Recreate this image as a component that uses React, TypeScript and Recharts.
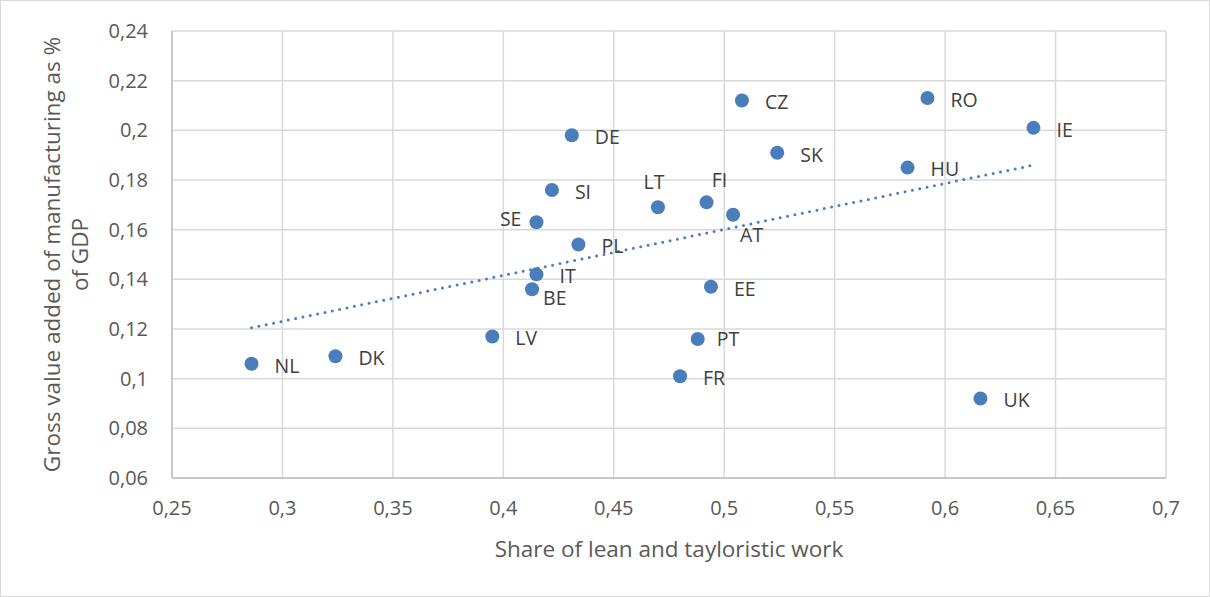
import React from 'react';
import { ScatterChart, Scatter, XAxis, YAxis, CartesianGrid, ReferenceLine } from 'recharts';

// country codes and values
const countries = ['NL', 'DK', 'LV', 'BE', 'IT', 'SE', 'SI', 'DE', 'PL', 'LT', 'FI', 'AT', 'CZ', 'SK', 'EE', 'PT', 'FR', 'RO', 'HU', 'IE', 'UK'];
const leanShare = [0.286, 0.324, 0.395, 0.413, 0.415, 0.415, 0.422, 0.431, 0.434, 0.470, 0.492, 0.504, 0.508, 0.524, 0.494, 0.488, 0.480, 0.592, 0.583, 0.640, 0.616];
const gvaShare = [0.106, 0.109, 0.117, 0.136, 0.142, 0.163, 0.176, 0.198, 0.154, 0.169, 0.171, 0.166, 0.212, 0.191, 0.137, 0.116, 0.101, 0.213, 0.185, 0.201, 0.092];

const xTicks = [0.25, 0.3, 0.35, 0.4, 0.45, 0.5, 0.55, 0.6, 0.65, 0.7];
const yTicks = [0.06, 0.08, 0.1, 0.12, 0.14, 0.16, 0.18, 0.2, 0.22, 0.24];

// linear trend endpoints (x, y)
const trendX = [0.286, 0.640];
const trendY = [0.1205, 0.186];

const points = countries.map((c, i) => ({ name: c, x: leanShare[i], y: gvaShare[i] }));

const BLUE = '#4a7dbb';
const FONT = '"Open Sans", "Segoe UI", sans-serif';

// label placement tweaks, default is right of the point
const labelTweak: Record<string, [number, number, 'start' | 'middle' | 'end']> = {
    LT: [-4, -25, 'middle'],
    FI: [13, -22, 'middle'],
    SE: [-15, -3, 'end'],
    AT: [7, 20, 'start'],
    BE: [11, 9, 'start'],
    PT: [19, 0, 'start'],
};

const fmt = (v: number) => String(Number(v.toFixed(2))).replace('.', ',');

const Dot = (props: any) => {
    const { cx, cy, payload } = props;
    const t = labelTweak[payload.name] || [23, 2, 'start'];
    return (
        <g>
            <circle cx={cx} cy={cy} r={7} fill={BLUE} />
            <text x={cx + t[0]} y={cy + t[1]} dy="0.35em" textAnchor={t[2]} fontSize={19.5} fill="#404040" fontFamily={FONT}>
                {payload.name}
            </text>
        </g>
    );
};

const YLabel = (props: any) => {
    const vb = props.viewBox || { y: 31, height: 447 };
    const cy = vb.y + vb.height / 2;
    return (
        <g fontFamily={FONT} fontSize={22.5} fill="#595959">
            <text transform={`translate(52, ${cy}) rotate(-90)`} textAnchor="middle" dy="0.35em">
                Gross value added of manufacturing as %
            </text>
            <text transform={`translate(80, ${cy}) rotate(-90)`} textAnchor="middle" dy="0.35em">
                of GDP
            </text>
        </g>
    );
};

const App: React.FC = () => {
    return (
        <div style={{ position: 'absolute', left: 0, top: 0, width: 1210, height: 597, background: '#fff' }}>
            <ScatterChart width={1210} height={597} margin={{ top: 31, right: 44, bottom: 59, left: 0 }}>
                <CartesianGrid stroke="#d9d9d9" strokeWidth={1.5} />
                <XAxis
                    type="number"
                    dataKey="x"
                    domain={[0.25, 0.7]}
                    ticks={xTicks}
                    tickFormatter={fmt}
                    interval={0}
                    height={60}
                    tickLine={false}
                    tickSize={0}
                    tickMargin={23}
                    axisLine={{ stroke: '#bfbfbf', strokeWidth: 1.5 }}
                    tick={{ fontSize: 20, fill: '#595959', fontFamily: FONT }}
                    label={{ value: 'Share of lean and tayloristic work', position: 'insideBottom', offset: -19, fontSize: 22.5, fill: '#595959', fontFamily: FONT }}
                />
                <YAxis
                    type="number"
                    dataKey="y"
                    domain={[0.06, 0.24]}
                    ticks={yTicks}
                    tickFormatter={fmt}
                    interval={0}
                    width={172}
                    tickLine={false}
                    tickSize={0}
                    tickMargin={24}
                    axisLine={{ stroke: '#bfbfbf', strokeWidth: 1.5 }}
                    tick={{ fontSize: 20, fill: '#595959', fontFamily: FONT }}
                    label={{ content: <YLabel /> }}
                />
                <ReferenceLine
                    segment={[{ x: trendX[0], y: trendY[0] }, { x: trendX[1], y: trendY[1] }]}
                    stroke={BLUE}
                    strokeWidth={3}
                    strokeDasharray="0 7.5"
                    strokeLinecap="round"
                    ifOverflow="visible"
                />
                <Scatter data={points} fill={BLUE} shape={<Dot />} isAnimationActive={false} />
            </ScatterChart>
            <div style={{ position: 'absolute', inset: 0, border: '1px solid #d9d9d9', pointerEvents: 'none' }} />
        </div>
    );
};

export default App;
